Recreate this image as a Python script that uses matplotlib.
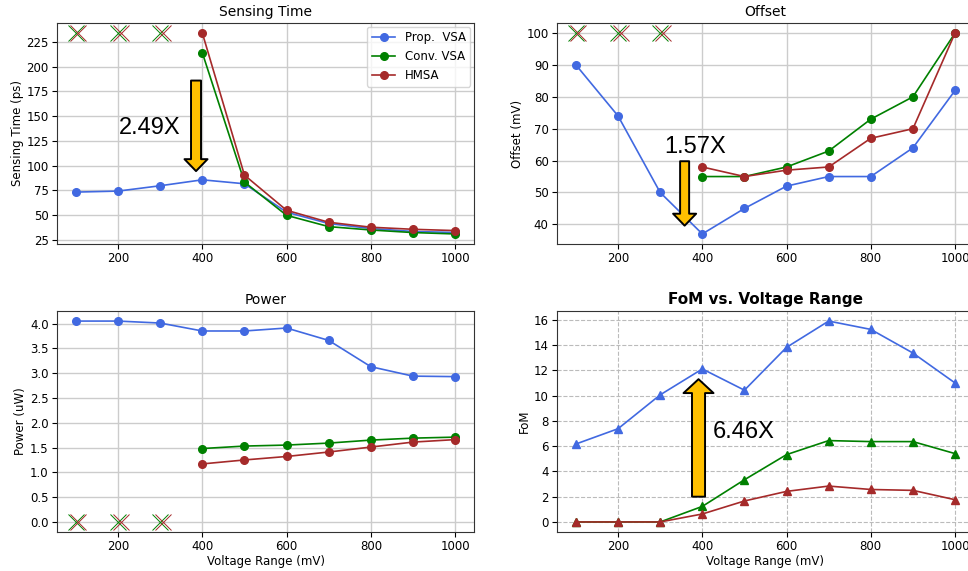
import matplotlib.pyplot as plt
import numpy as np

# voltage range sweep (mV)
volt = [100, 200, 300, 400, 500, 600, 700, 800, 900, 1000]
volt_hi = [400, 500, 600, 700, 800, 900, 1000]
volt_fail = [100, 200, 300]

# sensing time (ps)
st_prop = [73.3, 74.3, 79.7, 85.7, 81.7, 53, 41.5, 36.5, 33.5, 32.5]
st_conv = [214, 83.4, 49.8, 38.4, 35, 32.4, 31]
st_hmsa = [234, 90.4, 54.9, 42.8, 37.8, 35.7, 34.4]
st_fail = 234

# offset (mV)
off_prop = [90, 74, 50, 37, 45, 52, 55, 55, 64, 82]
off_conv = [55, 55, 58, 63, 73, 80, 100]
off_hmsa = [58, 55, 57, 58, 67, 70, 100]
off_fail = 100

# power (uW)
pw_prop = [4.05, 4.05, 4.01, 3.85, 3.85, 3.91, 3.66, 3.13, 2.94, 2.93]
pw_conv = [1.48, 1.53, 1.55, 1.59, 1.65, 1.69, 1.71]
pw_hmsa = [1.17, 1.25, 1.32, 1.41, 1.51, 1.61, 1.66]
pw_fail = 0

# figure of merit
fom_prop = [6.17, 7.38, 10.06, 12.11, 10.43, 13.82, 15.9, 15.24, 13.37, 11.0]
fom_conv = [0, 0, 0, 1.23, 3.34, 5.33, 6.44, 6.36, 6.36, 5.41]
fom_hmsa = [0, 0, 0, 0.63, 1.66, 2.42, 2.84, 2.57, 2.5, 1.76]

BLUE = 'royalblue'
GREEN = 'green'
RED = 'brown'
GOLD = '#FFC000'

plt.rcParams['font.size'] = 8.5
plt.rcParams['axes.edgecolor'] = '#333333'
plt.rcParams['xtick.major.pad'] = 2.5
plt.rcParams['ytick.major.pad'] = 2.5

fig = plt.figure(figsize=(9.68, 5.71), dpi=100)
ax1 = fig.add_axes([0.0589, 0.5727, 0.4308, 0.387])
ax2 = fig.add_axes([0.5754, 0.5727, 0.4308, 0.387])
ax3 = fig.add_axes([0.0589, 0.0683, 0.4308, 0.387])
ax4 = fig.add_axes([0.5754, 0.0683, 0.4308, 0.387])

lw = 1.2
ms = 5.5


def fail_marks(ax, y):
    # failed points of conv / hmsa drawn as crosses
    ax.plot(volt_fail, [y] * 3, 'x', color=GREEN, ms=12, mew=0.7, ls='none')
    ax.plot([v + 6 for v in volt_fail], [y] * 3, 'x', color=RED, ms=12, mew=0.7, ls='none')


def gold_arrow(ax, tail, tip, shaft, head, hlen):
    style = 'simple,head_width=%g,head_length=%g,tail_width=%g' % (head, hlen, shaft)
    ax.annotate('', xy=tip, xytext=tail, annotation_clip=False,
                arrowprops=dict(arrowstyle=style, mutation_scale=1, fc=GOLD,
                                ec='black', lw=1.4, shrinkA=0, shrinkB=0))


big = dict(fontsize=17, family='Liberation Sans', ha='left', va='center')

# sensing time
ax1.plot(volt, st_prop, '-o', color=BLUE, lw=lw, ms=ms, label='Prop.  VSA')
ax1.plot(volt_hi, st_conv, '-o', color=GREEN, lw=lw, ms=ms, label='Conv. VSA')
ax1.plot(volt_hi, st_hmsa, '-o', color=RED, lw=lw, ms=ms, label='HMSA')
fail_marks(ax1, st_fail)
ax1.set_yticks(np.arange(25, 226, 25))
ax1.set_title('Sensing Time', fontsize=10, pad=5)
ax1.set_ylabel('Sensing Time (ps)', labelpad=2)
ax1.legend(loc='upper right', fontsize=8.5, borderaxespad=0.3)
gold_arrow(ax1, (385, 186), (385, 94.5), 7.2, 16.6, 8.6)
ax1.text(202, 138.5, '2.49X', **big)

# offset
ax2.plot(volt, off_prop, '-o', color=BLUE, lw=lw, ms=ms)
ax2.plot(volt_hi, off_conv, '-o', color=GREEN, lw=lw, ms=ms)
ax2.plot(volt_hi, off_hmsa, '-o', color=RED, lw=lw, ms=ms)
fail_marks(ax2, off_fail)
ax2.set_title('Offset', fontsize=10, pad=5)
ax2.set_ylabel('Offset (mV)', labelpad=2)
gold_arrow(ax2, (358, 59.8), (358, 39.6), 6.5, 16.6, 8.6)
ax2.text(310, 64.2, '1.57X', **big)

# power
ax3.plot(volt, pw_prop, '-o', color=BLUE, lw=lw, ms=ms)
ax3.plot(volt_hi, pw_conv, '-o', color=GREEN, lw=lw, ms=ms)
ax3.plot(volt_hi, pw_hmsa, '-o', color=RED, lw=lw, ms=ms)
fail_marks(ax3, pw_fail)
ax3.set_yticks(np.arange(0, 4.01, 0.5))
ax3.set_title('Power', fontsize=10, pad=5)
ax3.set_ylabel('Power (uW)', labelpad=2)
ax3.set_xlabel('Voltage Range (mV)', labelpad=1)

# figure of merit
ax4.plot(volt, fom_prop, '-^', color=BLUE, lw=lw, ms=6)
ax4.plot(volt, fom_conv, '-^', color=GREEN, lw=lw, ms=6)
ax4.plot(volt, fom_hmsa, '-^', color=RED, lw=lw, ms=6)
ax4.set_yticks(np.arange(0, 17, 2))
ax4.set_title('FoM vs. Voltage Range', fontsize=11, fontweight='bold', pad=5)
ax4.set_ylabel('FoM', labelpad=2)
ax4.set_xlabel('Voltage Range (mV)', labelpad=1)
gold_arrow(ax4, (391, 2.0), (391, 11.3), 9.4, 21.6, 10)
ax4.text(425, 7.1, '6.46X', **big)

for ax in (ax1, ax2, ax3):
    ax.grid(True, color='#cccccc', lw=1)
    ax.set_axisbelow(True)
ax4.grid(True, ls='--', color='#bbbbbb', lw=0.8)
ax4.set_axisbelow(True)

for ax in (ax1, ax2, ax3, ax4):
    ax.set_xticks([200, 400, 600, 800, 1000])

fig.savefig('out.png', dpi=100)
